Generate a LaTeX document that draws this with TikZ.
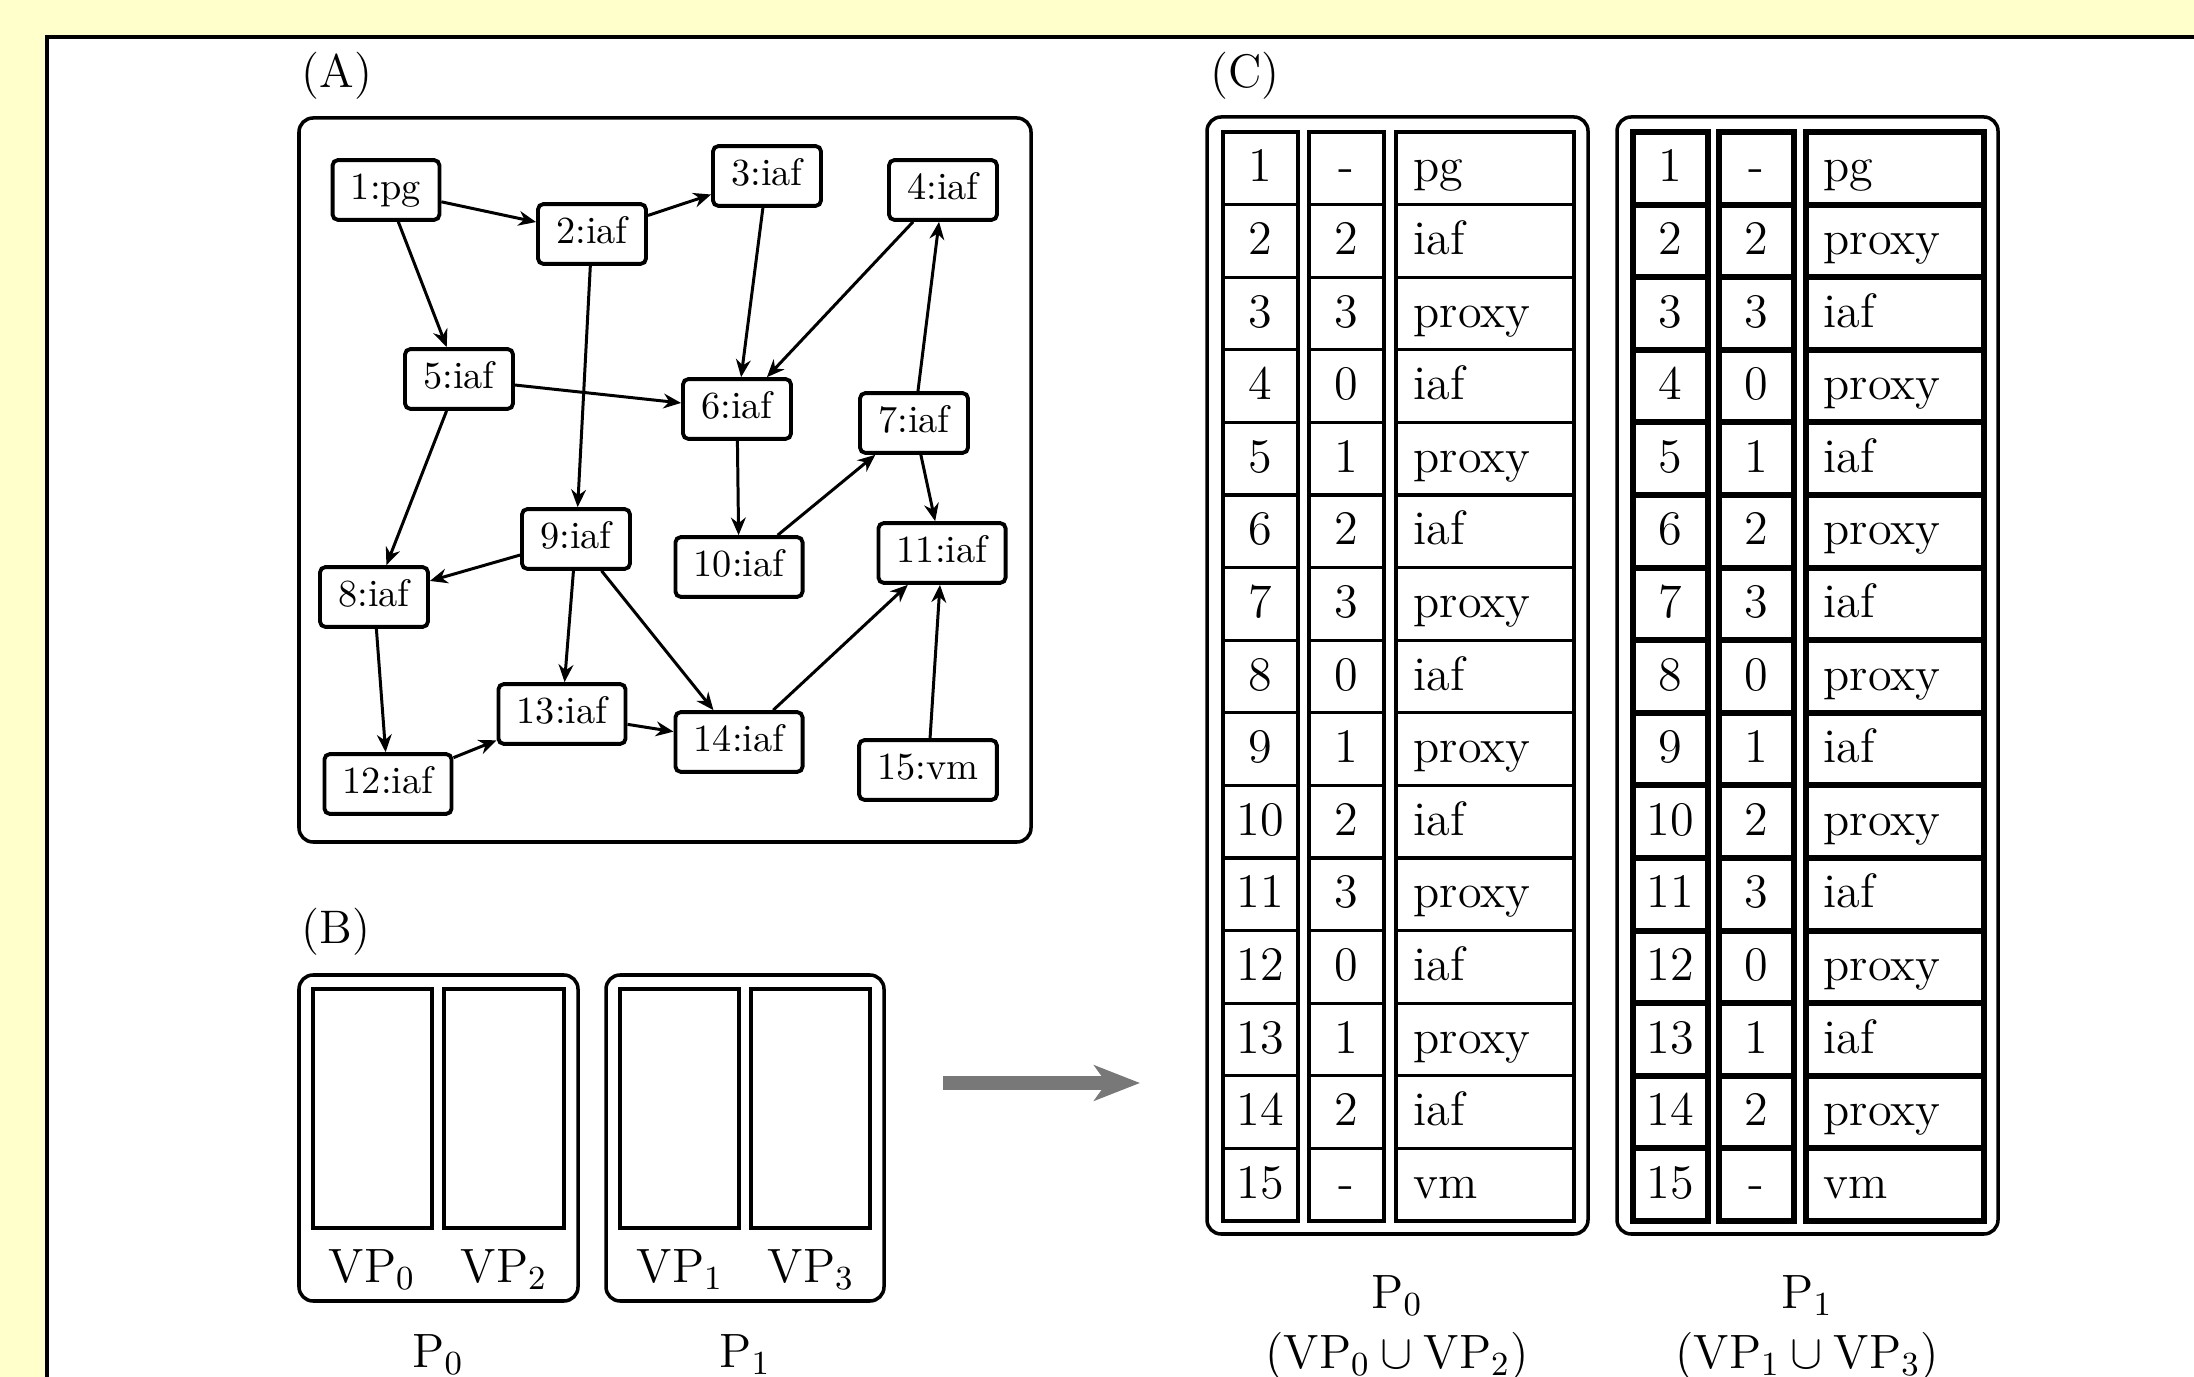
\RequirePackage{fix-cm}
\documentclass[tikz,border=0pt]{standalone}
\usepackage{amsmath,amssymb}
\usepackage{tikz}
\usetikzlibrary{arrows.meta}
\definecolor{bgyel}{RGB}{255,255,204}
\definecolor{arrgray}{RGB}{120,120,120}

\begin{document}
\begin{tikzpicture}[x=0.01cm,y=-0.01cm,>={Stealth[length=5pt,width=4.2pt]},
 vtx/.style={draw,line width=1.1pt,rounded corners=1.5pt,fill=white,inner xsep=5.2pt,inner ysep=3.6pt,text height=7.6pt,text depth=2.2pt,font=\fontsize{10.9}{13}\selectfont},
 edge/.style={->,line width=0.85pt},
 pbox/.style={line width=1pt,rounded corners=4pt},
 cellA/.style={line width=0.9pt},cellB/.style={line width=1.7pt},
 tcell/.style={anchor=base,inner sep=0pt,font=\fontsize{13.7}{16}\selectfont},
 lbl/.style={anchor=base west,inner sep=0pt,font=\fontsize{13.4}{16}\selectfont}]
\useasboundingbox (0,0) rectangle (2194,1377);
\clip (0,0) rectangle (2194,1377);
\fill[bgyel] (0,0) rectangle (2194,1377);
\draw[line width=1.2pt,fill=white] (47,37) rectangle (2300,1450);
% panel labels
\node[lbl] (labA) at (301,88) {(A)};\node[lbl] (labB) at (301,944) {(B)};\node[lbl] (labC) at (1210,88) {(C)};
% (A) graph
\draw[pbox] (299,118) rectangle (1031,842);
\node[vtx] (n1) at (386,190) {1:pg};\node[vtx] (n2) at (592,234) {2:iaf};\node[vtx] (n3) at (767,176) {3:iaf};
\node[vtx] (n4) at (943,190) {4:iaf};\node[vtx] (n5) at (459,379) {5:iaf};\node[vtx] (n6) at (737,409) {6:iaf};
\node[vtx] (n7) at (914,423) {7:iaf};\node[vtx] (n8) at (374,597) {8:iaf};\node[vtx] (n9) at (576,539) {9:iaf};
\node[vtx] (n10) at (739,567) {10:iaf};\node[vtx] (n11) at (942,553) {11:iaf};\node[vtx] (n12) at (388,784) {12:iaf};
\node[vtx] (n13) at (562,714) {13:iaf};\node[vtx] (n14) at (739,742) {14:iaf};\node[vtx] (n15) at (928,770) {15:vm};
\foreach \a/\b in {1/2,2/3,1/5,2/9,3/6,4/6,5/6,5/8,6/10,10/7,7/4,7/11,9/8,9/13,9/14,8/12,12/13,13/14,14/11,15/11}
  \draw[edge] (n\a) -- (n\b);
% (B) processors
\draw[pbox] (299,975) rectangle (578,1301);\draw[pbox] (606,975) rectangle (884,1301);
\draw[line width=1.2pt] (313,989) rectangle (432,1228) (444,989) rectangle (564,1228);
\draw[line width=1.2pt] (620,989) rectangle (739,1228) (751,989) rectangle (870,1228);
\node[tcell] (vp0) at (372,1282) {$\mathrm{VP}_0$};\node[tcell] (vp2) at (504,1282) {$\mathrm{VP}_2$};
\node[tcell] (vp1) at (680,1282) {$\mathrm{VP}_1$};\node[tcell] (vp3) at (811,1282) {$\mathrm{VP}_3$};
\node[tcell] (pb0) at (438,1367) {$\mathrm{P}_0$};\node[tcell] (pb1) at (745,1367) {$\mathrm{P}_1$};
\coordinate (arrS) at (943,1083);\coordinate (arrE) at (1140,1083);
\draw[line width=3.7pt,arrgray,-{Stealth[length=13pt,width=10pt,inset=3.5pt]}] (arrS) -- (arrE);
% (C) tables
\draw[pbox] (1207,117) rectangle (1588,1234);\draw[pbox] (1617,117) rectangle (1998,1234);
\foreach \r/\v/\a/\b [count=\k from 0] in {1/-/pg/pg,2/2/iaf/proxy,3/3/proxy/iaf,4/0/iaf/proxy,5/1/proxy/iaf,6/2/iaf/proxy,7/3/proxy/iaf,8/0/iaf/proxy,9/1/proxy/iaf,10/2/iaf/proxy,11/3/proxy/iaf,12/0/iaf/proxy,13/1/proxy/iaf,14/2/iaf/proxy,15/-/vm/vm}{
  \pgfmathsetmacro\yt{132+72.6*\k}
  \draw[cellA] (1223,\yt) rectangle ++(75,72.6) (1309,\yt) rectangle ++(75,72.6) (1396,\yt) rectangle ++(178,72.6);
  \draw[cellB] (1633,\yt) rectangle ++(75,72.6) (1719,\yt) rectangle ++(75,72.6) (1806,\yt) rectangle ++(178,72.6);
  \node[tcell] (la\r) at (1260,\yt+50) {\r};\node[tcell] (lb\r) at (1346,\yt+50) {\v};\node[tcell,anchor=base west] (lc\r) at (1413,\yt+50) {\a};
  \node[tcell] (ra\r) at (1670,\yt+50) {\r};\node[tcell] (rb\r) at (1756,\yt+50) {\v};\node[tcell,anchor=base west] (rc\r) at (1823,\yt+50) {\b};
}
\node[tcell] (pt0) at (1397,1308) {$\mathrm{P}_0$};\node[tcell] (ut0) at (1397,1368) {$(\mathrm{VP}_0\cup\mathrm{VP}_2)$};
\node[tcell] (pt1) at (1807,1308) {$\mathrm{P}_1$};\node[tcell] (ut1) at (1807,1368) {$(\mathrm{VP}_1\cup\mathrm{VP}_3)$};
\end{tikzpicture}
\end{document}
